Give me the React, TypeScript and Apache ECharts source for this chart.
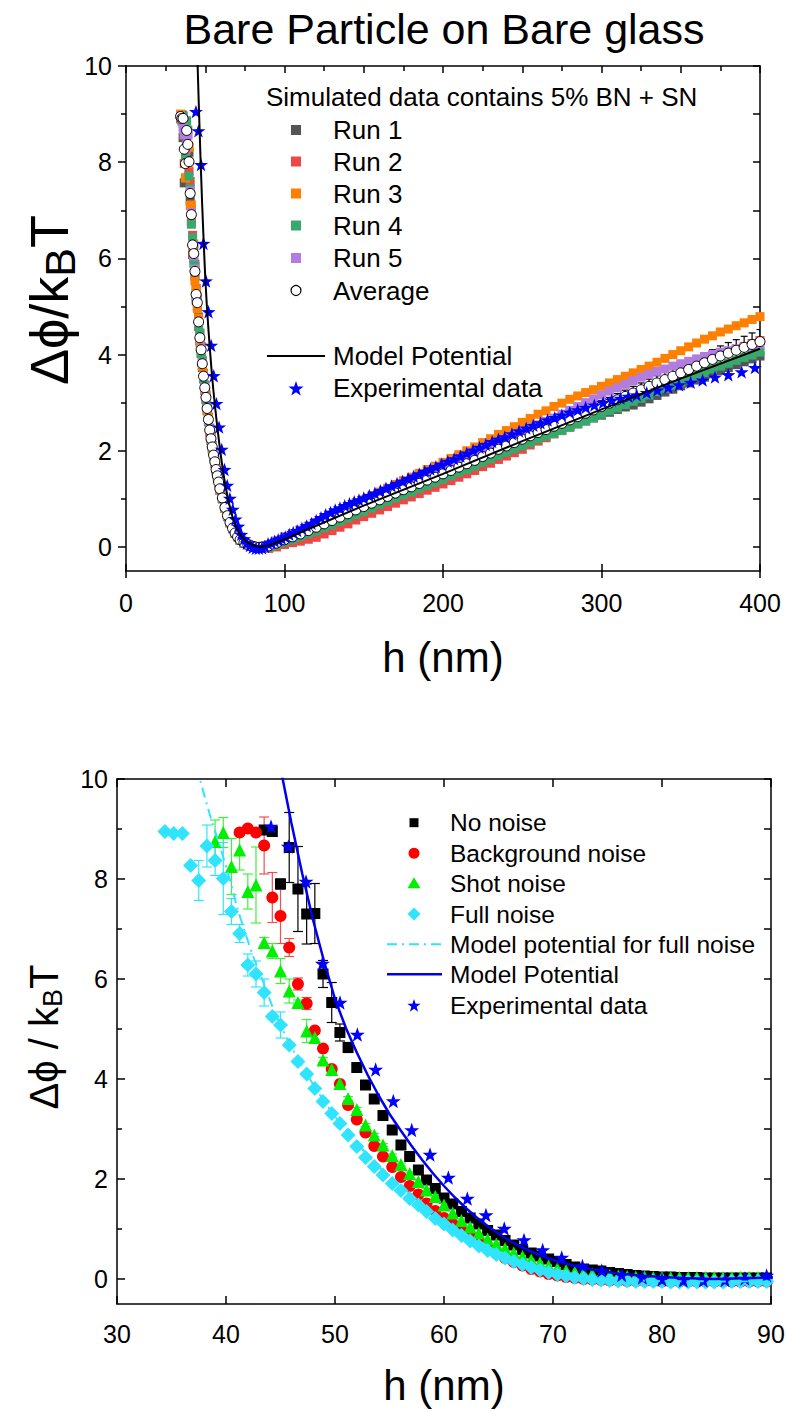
import React, { useEffect, useRef } from "react";
import * as echarts from "echarts";

// ---------------- Top panel (Bare Particle on Bare glass) ----------------
const topH = [34.4, 35.2, 36.0, 36.75, 37.5, 38.25, 39.0, 39.75, 40.5, 41.25, 42.0, 42.75, 43.5, 44.25, 45.0, 45.8, 46.6, 47.4, 48.15, 48.9, 49.7, 50.45, 51.2, 52.0, 52.8, 53.6, 54.4, 55.25, 56.05, 56.85, 57.65, 58.4, 59.2, 60.8, 62.4, 64.0, 65.6, 67.2, 68.8, 70.4, 72.0, 74.4, 76.8, 79.2, 81.6, 84.0, 86.4, 90, 95, 100, 105, 110, 115, 120, 125, 130, 135, 140, 145, 150, 155, 160, 165, 170, 175, 180, 185, 190, 195, 200, 205, 210, 215, 220, 225, 230, 235, 240, 245, 250, 255, 260, 265, 270, 275, 280, 285, 290, 295, 300, 305, 310, 315, 320, 325, 330, 335, 340, 345, 350, 355, 360, 365, 370, 375, 380, 385, 390, 395, 400];

const run1V = [8.95, 8.96, 8.51, 7.57, 7.67, 8.46, 8.07, 8.21, 7.20, 7.01, 6.08, 6.25, 5.63, 5.37, 5.00, 4.78, 4.29, 4.15, 3.73, 3.61, 3.26, 3.15, 2.83, 2.70, 2.39, 2.28, 2.04, 1.94, 1.74, 1.64, 1.46, 1.37, 1.18, 1.04, 0.80, 0.67, 0.50, 0.40, 0.28, 0.22, 0.15, 0.09, 0.05, 0.02, 0.0, -0.01, 0.0,
  0.00, 0.05, 0.12, 0.18, 0.24, 0.31, 0.38, 0.45, 0.52, 0.59, 0.66, 0.73, 0.81, 0.88, 0.95, 1.02, 1.09, 1.16, 1.22, 1.29, 1.35, 1.42, 1.46, 1.53, 1.60, 1.67, 1.74, 1.82, 1.89, 1.97, 2.04, 2.11, 2.18, 2.25, 2.31, 2.37, 2.44, 2.48, 2.51, 2.56, 2.62, 2.68, 2.74, 2.80, 2.86, 2.91, 2.95, 3.01, 3.08, 3.15, 3.22, 3.28, 3.35, 3.41, 3.47, 3.53, 3.60, 3.67, 3.73, 3.79, 3.85, 3.91, 3.97];
const run2V = [8.90, 8.91, 8.96, 7.97, 8.17, 8.26, 8.57, 7.81, 7.60, 6.76, 6.48, 6.00, 5.88, 5.20, 5.18, 4.58, 4.43, 4.04, 3.86, 3.50, 3.37, 3.07, 2.93, 2.62, 2.47, 2.22, 2.11, 1.89, 1.80, 1.59, 1.50, 1.33, 1.23, 1.00, 0.84, 0.64, 0.52, 0.38, 0.29, 0.21, 0.14, 0.08, 0.04, 0.01, -0.01, -0.03, -0.01,
  -0.03, 0.00, 0.05, 0.09, 0.12, 0.16, 0.20, 0.27, 0.34, 0.41, 0.48, 0.56, 0.63, 0.70, 0.77, 0.84, 0.91, 0.98, 1.04, 1.11, 1.18, 1.24, 1.31, 1.38, 1.45, 1.52, 1.59, 1.67, 1.74, 1.82, 1.89, 1.96, 2.03, 2.12, 2.20, 2.27, 2.35, 2.42, 2.49, 2.57, 2.64, 2.72, 2.79, 2.88, 2.96, 3.04, 3.12, 3.20, 3.28, 3.36, 3.44, 3.52, 3.60, 3.68, 3.76, 3.83, 3.91, 3.98, 4.05, 4.11, 4.17, 4.23, 4.29];
const run3V = [9.00, 8.91, 8.81, 8.57, 7.67, 8.66, 7.97, 8.31, 7.10, 7.11, 6.13, 6.30, 5.53, 5.35, 4.96, 4.76, 4.25, 4.17, 3.76, 3.60, 3.26, 3.16, 2.84, 2.69, 2.38, 2.29, 2.05, 1.94, 1.75, 1.63, 1.45, 1.37, 1.19, 1.03, 0.80, 0.66, 0.50, 0.40, 0.29, 0.21, 0.16, 0.10, 0.06, 0.03, 0.01, 0.0, 0.02,
  0.04, 0.12, 0.21, 0.28, 0.35, 0.43, 0.51, 0.59, 0.66, 0.74, 0.82, 0.91, 0.98, 1.06, 1.14, 1.22, 1.30, 1.38, 1.45, 1.53, 1.61, 1.68, 1.76, 1.84, 1.92, 2.00, 2.08, 2.17, 2.25, 2.34, 2.42, 2.50, 2.59, 2.67, 2.76, 2.83, 2.92, 2.99, 3.07, 3.14, 3.21, 3.27, 3.34, 3.41, 3.48, 3.55, 3.62, 3.69, 3.76, 3.84, 3.92, 4.00, 4.08, 4.16, 4.24, 4.32, 4.39, 4.47, 4.53, 4.60, 4.66, 4.73, 4.79];
const run4V = [8.95, 8.86, 8.96, 8.67, 8.07, 8.86, 8.67, 7.71, 7.45, 6.71, 6.43, 5.90, 5.83, 5.13, 5.13, 4.60, 4.45, 4.02, 3.87, 3.49, 3.35, 3.06, 2.91, 2.60, 2.46, 2.21, 2.10, 1.88, 1.79, 1.58, 1.50, 1.33, 1.23, 1.00, 0.83, 0.63, 0.52, 0.38, 0.29, 0.21, 0.14, 0.08, 0.05, 0.01, -0.01, -0.02, -0.01,
  -0.01, 0.04, 0.10, 0.15, 0.21, 0.27, 0.33, 0.40, 0.46, 0.53, 0.60, 0.67, 0.74, 0.81, 0.88, 0.95, 1.02, 1.08, 1.14, 1.21, 1.28, 1.34, 1.41, 1.48, 1.55, 1.61, 1.68, 1.76, 1.83, 1.90, 1.97, 2.04, 2.10, 2.17, 2.24, 2.30, 2.36, 2.42, 2.49, 2.56, 2.62, 2.69, 2.76, 2.83, 2.89, 2.96, 3.03, 3.09, 3.16, 3.23, 3.30, 3.36, 3.43, 3.50, 3.56, 3.63, 3.70, 3.76, 3.82, 3.88, 3.94, 3.99, 4.05];
const run5V = [8.95, 8.91, 8.71, 8.57, 8.27, 8.36, 8.57, 8.01, 7.40, 6.96, 6.28, 6.05, 5.78, 5.20, 5.13, 4.68, 4.33, 4.12, 3.83, 3.55, 3.31, 3.11, 2.89, 2.64, 2.45, 2.25, 2.10, 1.93, 1.77, 1.61, 1.51, 1.37, 1.22, 1.03, 0.83, 0.65, 0.51, 0.39, 0.30, 0.22, 0.16, 0.09, 0.05, 0.02, 0.0, 0.0, 0.0,
  0.05, 0.12, 0.21, 0.28, 0.34, 0.41, 0.49, 0.56, 0.64, 0.71, 0.78, 0.86, 0.94, 1.01, 1.08, 1.16, 1.23, 1.30, 1.36, 1.43, 1.50, 1.57, 1.64, 1.71, 1.78, 1.86, 1.93, 2.01, 2.08, 2.17, 2.24, 2.31, 2.39, 2.47, 2.54, 2.61, 2.68, 2.76, 2.84, 2.92, 3.00, 3.08, 3.16, 3.24, 3.31, 3.38, 3.46, 3.53, 3.59, 3.65, 3.70, 3.76, 3.81, 3.86, 3.91, 3.96, 4.00, 4.05, 4.08, 4.12, 4.15, 4.18, 4.22];
const avgV = [8.95, 8.91, 8.91, 8.27, 7.97, 8.66, 8.37, 8.01, 7.35, 6.91, 6.28, 6.10, 5.73, 5.25, 5.08, 4.68, 4.35, 4.10, 3.81, 3.55, 3.31, 3.11, 2.88, 2.65, 2.43, 2.25, 2.08, 1.91, 1.77, 1.61, 1.48, 1.35, 1.21, 1.02, 0.82, 0.65, 0.51, 0.39, 0.29, 0.21, 0.15, 0.09, 0.05, 0.02, 0.0, -0.01, 0.0,
  0.02, 0.08, 0.15, 0.21, 0.27, 0.34, 0.41, 0.48, 0.55, 0.62, 0.69, 0.77, 0.84, 0.91, 0.98, 1.05, 1.12, 1.19, 1.25, 1.32, 1.39, 1.45, 1.52, 1.59, 1.66, 1.73, 1.80, 1.88, 1.95, 2.03, 2.10, 2.17, 2.24, 2.31, 2.38, 2.44, 2.51, 2.57, 2.64, 2.71, 2.78, 2.85, 2.92, 2.99, 3.06, 3.13, 3.20, 3.27, 3.34, 3.41, 3.48, 3.55, 3.62, 3.69, 3.76, 3.83, 3.90, 3.97, 4.03, 4.09, 4.15, 4.21, 4.27];
const avgErr = [0.03, 0.03, 0.15, 0.3, 0.25, 0.25, 0.3, 0.25, 0.15, 0.15, 0.15, 0.15, 0.12, 0.1, 0.1, 0.08, 0.08, 0.07, 0.06, 0.05, 0.05, 0.04, 0.04, 0.04, 0.04, 0.03, 0.03, 0.03, 0.03, 0.03, 0.03, 0.02, 0.02, 0.02, 0.02, 0.02, 0.02, 0.01, 0.01, 0.01, 0.01, 0.01, 0.01, 0.01, 0.01, 0.01, 0.01,
  0.03, 0.03, 0.03, 0.03, 0.03, 0.03, 0.03, 0.03, 0.03, 0.03, 0.04, 0.04, 0.04, 0.04, 0.05, 0.05, 0.05, 0.05, 0.06, 0.06, 0.06, 0.06, 0.06, 0.07, 0.07, 0.07, 0.07, 0.08, 0.08, 0.08, 0.08, 0.09, 0.09, 0.09, 0.09, 0.10, 0.10, 0.10, 0.11, 0.11, 0.11, 0.12, 0.12, 0.12, 0.13, 0.13, 0.14, 0.14, 0.15, 0.15, 0.16, 0.16, 0.17, 0.17, 0.18, 0.19, 0.20, 0.21, 0.22, 0.22, 0.23, 0.24, 0.25];

const runNames = ["Run 1", "Run 2", "Run 3", "Run 4", "Run 5"];
const runColors = ["#555555", "#ef4646", "#ff8000", "#38a96c", "#b27ddf"];

// Experimental data (shared by both panels)
const expH = [44.13, 45.72, 47.34, 48.84, 50.46, 52.05, 53.73, 55.35, 57.04, 58.72, 60.4, 62.14, 63.85, 65.53, 67.34, 69.05, 70.8, 72.7, 74.47, 76.3, 78.2, 80.0, 81.95, 83.79, 85.78, 87.6, 89.6, 91.7, 93.8, 96.0, 98.2, 100.5, 103, 105.5, 108, 111, 114, 117, 120, 123, 126, 129, 132, 135, 138, 141, 144, 147, 150, 153.5, 157, 160.5, 164, 167.5, 171, 174.5, 178, 181.5, 185, 188.5, 192, 195.5, 199, 203, 207, 211, 215, 219, 223, 227, 231, 235, 239, 243.5, 248, 252.5, 257, 261.5, 266, 270.5, 275, 280, 285, 290, 295.5, 301, 306.5, 312, 317, 322.2, 328.5, 335.2, 342.1, 348.9, 356.3, 363.8, 371.6, 380, 388.4, 396.8];
const expV = [9.05, 8.65, 7.95, 6.31, 5.53, 4.89, 4.19, 3.56, 2.98, 2.49, 2.03, 1.61, 1.28, 1.01, 0.78, 0.58, 0.43, 0.26, 0.17, 0.08, 0.03, -0.01, -0.03, -0.03, -0.02, 0.01, 0.07, 0.09, 0.12, 0.15, 0.18, 0.21, 0.26, 0.30, 0.34, 0.39, 0.44, 0.49, 0.55, 0.61, 0.67, 0.72, 0.77, 0.81, 0.86, 0.90, 0.94, 0.98, 1.02, 1.07, 1.12, 1.17, 1.22, 1.27, 1.32, 1.37, 1.42, 1.47, 1.52, 1.57, 1.62, 1.67, 1.72, 1.78, 1.83, 1.89, 1.95, 2.01, 2.07, 2.13, 2.19, 2.24, 2.29, 2.35, 2.41, 2.47, 2.53, 2.58, 2.64, 2.69, 2.74, 2.80, 2.85, 2.90, 2.95, 3.00, 3.05, 3.09, 3.13, 3.16, 3.21, 3.26, 3.32, 3.37, 3.42, 3.47, 3.53, 3.58, 3.64, 3.73];

// Model potential (shared)
const modelH = [44.9, 45.2, 46, 47, 48, 49, 50, 51, 52, 53, 54, 55, 56, 57, 58, 59, 60, 61, 62, 63, 64, 65, 66, 67, 68, 69, 70, 72, 74, 76, 78, 80, 82, 84.7, 90, 100, 120, 150, 200, 250, 300, 350, 400];
const modelV = [10.3, 10.0, 9.12, 8.10, 7.17, 6.35, 5.60, 5.02, 4.53, 4.08, 3.67, 3.30, 2.98, 2.67, 2.38, 2.11, 1.86, 1.63, 1.42, 1.23, 1.06, 0.91, 0.77, 0.65, 0.55, 0.46, 0.38, 0.26, 0.17, 0.11, 0.07, 0.04, 0.02, 0.0, 0.03, 0.16, 0.44, 0.86, 1.52, 2.2, 2.86, 3.5, 4.12];

// ---------------- Bottom panel ----------------
const bottomH = [34.4, 35.2, 36.0, 36.75, 37.5, 38.25, 39.0, 39.75, 40.5, 41.25, 42.0, 42.75, 43.5, 44.25, 45.0, 45.8, 46.6, 47.4, 48.15, 48.9, 49.7, 50.45, 51.2, 52.0, 52.8, 53.6, 54.4, 55.25, 56.05, 56.85, 57.65, 58.4, 59.2, 60.0, 60.8, 61.6, 62.4, 63.2, 64.0, 64.8, 65.6, 66.4, 67.2, 68.0, 68.8, 69.6, 70.4, 71.2, 72.0, 72.8, 73.6, 74.4, 75.2, 76.0, 76.8, 77.6, 78.4, 79.2, 80.0, 80.8, 81.6, 82.4, 83.2, 84.0, 84.8, 85.6, 86.4, 87.2, 88.0, 88.8, 89.6];
const noNoiseV = [null, null, null, null, null, null, null, null, null, null, null, null, 8.98, 8.95, 7.90, 8.63, 7.80, 7.30, 7.31, 6.10, 5.53, 4.93, 4.63, 4.23, 3.88, 3.60, 3.27, 2.98, 2.68, 2.45, 2.18, 1.98, 1.81,
  1.62, 1.50, 1.35, 1.22, 1.10, 0.97, 0.88, 0.77, 0.68, 0.59, 0.52, 0.46, 0.40, 0.35, 0.29, 0.24, 0.20, 0.18, 0.16, 0.13, 0.11, 0.09, 0.07, 0.06, 0.05, 0.04, 0.04, 0.03, 0.03, 0.03, 0.02, 0.02, 0.02, 0.02, 0.02, 0.02, 0.02, 0.02];
const noNoiseErr = [0, 0, 0, 0, 0, 0, 0, 0, 0, 0, 0, 0, 0, 0, 0.1, 0.7, 0.85, 0.6, 0.6, 0.27, 0.4, 0.17, 0.1, 0.06, 0.05, 0.04, 0.04, 0.03, 0.03, 0.03, 0.03, 0.03, 0.03];
const bgNoiseV = [null, null, null, null, null, null, null, null, null, 8.93, 9.01, 8.93, 8.67, 7.63, 7.26, 6.63, 5.90, 5.51, 4.97, 4.61, 4.20, 3.90, 3.48, 3.19, 2.93, 2.66, 2.45, 2.24, 2.04, 1.86, 1.69, 1.51, 1.36,
  1.22, 1.10, 0.97, 0.85, 0.73, 0.61, 0.51, 0.42, 0.34, 0.27, 0.20, 0.15, 0.10, 0.07, 0.04, 0.02, 0.00, -0.01, -0.02, -0.03, -0.03, -0.04, -0.04, -0.04, -0.04, -0.05, -0.05, -0.05, -0.05, -0.05, -0.05, -0.05, -0.05, -0.05, -0.05, -0.05, -0.05, -0.05];
const bgNoiseErr = [0, 0, 0, 0, 0, 0, 0, 0, 0, 0.05, 0.05, 0.05, 0.57, 0.5, 0.55, 0.18, 0.12, 0.12, 0.05, 0.05, 0.04, 0.04, 0.03, 0.03, 0.03, 0.03, 0.03, 0.03, 0.03, 0.03, 0.03, 0.03, 0.03];
const shotNoiseV = [null, null, null, null, null, null, 8.75, 8.93, 8.25, 8.58, 7.75, 7.88, 6.73, 6.56, 6.16, 5.76, 5.53, 4.96, 4.83, 4.38, 4.19, 3.91, 3.61, 3.39, 3.08, 2.88, 2.68, 2.47, 2.29, 2.11, 1.95, 1.78, 1.65,
  1.48, 1.32, 1.17, 1.04, 0.92, 0.80, 0.70, 0.61, 0.52, 0.45, 0.38, 0.32, 0.26, 0.21, 0.17, 0.14, 0.12, 0.10, 0.08, 0.07, 0.06, 0.05, 0.04, 0.04, 0.03, 0.03, 0.03, 0.03, 0.03, 0.03, 0.03, 0.03, 0.03, 0.03, 0.03, 0.03, 0.03, 0.03];
const shotNoiseErr = [0, 0, 0, 0, 0, 0, 0.43, 0.3, 0.56, 0.4, 0.35, 0.76, 0.1, 0.15, 0.25, 0.24, 0.05, 0.23, 0.1, 0.05, 0.05, 0.04, 0.04, 0.04, 0.03, 0.03, 0.03, 0.03, 0.03, 0.03, 0.03, 0.03, 0.03];
const fullNoiseV = [8.95, 8.91, 8.91, 8.27, 7.97, 8.66, 8.37, 8.01, 7.35, 6.91, 6.28, 6.10, 5.73, 5.25, 5.08, 4.68, 4.35, 4.10, 3.81, 3.55, 3.31, 3.11, 2.88, 2.65, 2.43, 2.25, 2.08, 1.91, 1.77, 1.61, 1.48, 1.35, 1.21,
  1.10, 0.98, 0.87, 0.76, 0.66, 0.57, 0.49, 0.42, 0.35, 0.29, 0.23, 0.18, 0.13, 0.09, 0.06, 0.03, 0.01, -0.01, -0.02, -0.03, -0.04, -0.04, -0.05, -0.05, -0.05, -0.05, -0.06, -0.06, -0.06, -0.06, -0.06, -0.06, -0.06, -0.05, -0.05, -0.05, -0.05, -0.05];
const fullNoiseErr = [0, 0, 0, 0, 0.4, 0.42, 0.3, 0.72, 0.26, 0.18, 0.22, 0.26, 0.27, 0.05, 0.26, 0.04, 0.04, 0.04, 0.03, 0.03, 0.03, 0.03, 0.03, 0.03, 0.03, 0.03, 0.03, 0.03, 0.03, 0.03, 0.03, 0.03, 0.03];
const fullModelH = [37.3, 37.6, 38.5, 39.45, 40.4, 41.0, 41.75, 42.5, 43.4, 44.35, 45.5, 47.0, 48.5, 50.0, 52.0, 54.0, 56.0, 58.0, 60.0, 62.0, 64.0, 66.0, 68.0, 70.0, 72.0, 75.0, 80.0, 90.0];
const fullModelV = [10.25, 10.0, 9.3, 8.65, 7.95, 7.45, 6.93, 6.45, 5.95, 5.40, 4.85, 4.25, 3.72, 3.25, 2.72, 2.25, 1.85, 1.50, 1.18, 0.90, 0.66, 0.46, 0.30, 0.17, 0.08, 0.0, -0.04, -0.05];

const bottomNames = ["No noise", "Background noise", "Shot noise", "Full noise", "Model potential for full noise", "Model Potential", "Experimental data"];

// ticks
const yMajor = [0, 2, 4, 6, 8, 10];
const yMinor = [1, 3, 5, 7, 9];
const yAll = [0, 1, 2, 3, 4, 5, 6, 7, 8, 9, 10];

const FONT = "'Liberation Sans', Arial, Helvetica, sans-serif";
const STAR = "path://M0,-10L2.35,-3.24L9.51,-3.09L3.8,1.24L5.88,8.09L0,4L-5.88,8.09L-3.8,1.24L-9.51,-3.09L-2.35,-3.24Z";
const BLUE = "#0000ff";
const CYAN = "#30e4ff";
const GREEN = "#00f000";

function pairs(xs: number[], ys: (number | null)[]) {
  const out: number[][] = [];
  for (let i = 0; i < xs.length; i++) {
    const y = ys[i];
    if (y === null || y === undefined) continue;
    out.push([xs[i], y as number]);
  }
  return out;
}

function errorBars(name: string, xs: number[], ys: (number | null)[], errs: number[], color: string, xi: number, yi: number, cap: number) {
  const data: number[][] = [];
  xs.forEach((x, i) => {
    const y = ys[i];
    const e = errs[i] ?? 0;
    if (y === null || y === undefined || !(e > 0)) return;
    data.push([x, (y as number) - e, (y as number) + e]);
  });
  return {
    type: "custom",
    name,
    xAxisIndex: xi,
    yAxisIndex: yi,
    data,
    silent: true,
    clip: true,
    encode: { x: 0, y: [1, 2] },
    renderItem: (params: any, api: any) => {
      const x = api.value(0);
      const lo = api.coord([x, api.value(1)]);
      const hi = api.coord([x, api.value(2)]);
      const style = { stroke: color, lineWidth: 1.2, fill: "none" };
      return {
        type: "group",
        children: [
          { type: "line", shape: { x1: lo[0], y1: lo[1], x2: hi[0], y2: hi[1] }, style },
          { type: "line", shape: { x1: hi[0] - cap, y1: hi[1], x2: hi[0] + cap, y2: hi[1] }, style },
          { type: "line", shape: { x1: lo[0] - cap, y1: lo[1], x2: lo[0] + cap, y2: lo[1] }, style },
        ],
      };
    },
  };
}

function starPts(cx: number, cy: number, R: number) {
  const pts: number[][] = [];
  for (let k = 0; k < 10; k++) {
    const r = k % 2 === 0 ? R : R * 0.4;
    const a = -Math.PI / 2 + (k * Math.PI) / 5;
    pts.push([cx + r * Math.cos(a), cy + r * Math.sin(a)]);
  }
  return pts;
}

const G0 = { left: 126, top: 66, width: 634, height: 505 };
const G1 = { left: 117, top: 779, width: 654, height: 525 };

function buildOption() {
  const lineSt = { color: "#000", width: 1.5 };
  const tickSt = { color: "#000", width: 1.5 };
  const lbl = { show: true, fontSize: 25, color: "#000", fontFamily: FONT };
  const off = { show: false };

  const xAxis = [
    { gridIndex: 0, type: "value", min: 0, max: 400, interval: 100, position: "bottom",
      axisLine: { show: true, onZero: false, lineStyle: lineSt },
      axisTick: { show: true, inside: false, length: 7, lineStyle: tickSt },
      axisLabel: { ...lbl, margin: 19 }, splitLine: off },
    { gridIndex: 0, type: "value", min: 0, max: 400, interval: 50, position: "top",
      axisLine: { show: true, onZero: false, lineStyle: lineSt },
      axisTick: { show: true, inside: true, length: 7, lineStyle: tickSt },
      minorTick: { show: true, splitNumber: 2, length: 5, lineStyle: tickSt },
      axisLabel: off, splitLine: off },
    { gridIndex: 2, type: "value", min: 0, max: 400, interval: 100, position: "bottom",
      axisLine: { show: false, onZero: false },
      axisTick: { show: true, inside: true, length: 7, lineStyle: tickSt },
      axisLabel: off, splitLine: off },
    { gridIndex: 1, type: "value", min: 30, max: 90, interval: 10, position: "bottom",
      axisLine: { show: true, onZero: false, lineStyle: lineSt },
      axisTick: { show: true, inside: true, length: 8, lineStyle: tickSt },
      axisLabel: { ...lbl, margin: 17 }, splitLine: off },
    { gridIndex: 1, type: "value", min: 30, max: 90, interval: 10, position: "top",
      axisLine: { show: true, onZero: false, lineStyle: lineSt },
      axisTick: { show: true, inside: true, length: 8, lineStyle: tickSt },
      axisLabel: off, splitLine: off },
    { gridIndex: 3, type: "value", min: 30, max: 90, interval: 10, show: false,
      axisLine: { show: false, onZero: false }, splitLine: off },
  ];

  const yAxis = [
    { gridIndex: 0, type: "value", min: -0.5, max: 10, position: "left",
      axisLine: { show: true, onZero: false, lineStyle: lineSt },
      axisTick: { show: true, inside: false, length: 8, customValues: yMajor, lineStyle: tickSt },
      axisLabel: { ...lbl, margin: 14, customValues: yMajor }, splitLine: off },
    { gridIndex: 0, type: "value", min: -0.5, max: 10, position: "right",
      axisLine: { show: true, onZero: false, lineStyle: lineSt },
      axisTick: { show: true, inside: true, length: 7, customValues: yAll, lineStyle: tickSt },
      axisLabel: off, splitLine: off },
    { gridIndex: 2, type: "value", min: -0.5, max: 10, position: "left",
      axisLine: { show: false, onZero: false },
      axisTick: { show: true, inside: false, length: 5, customValues: yMinor, lineStyle: tickSt },
      axisLabel: off, splitLine: off },
    { gridIndex: 1, type: "value", min: -0.5, max: 10, position: "left",
      axisLine: { show: true, onZero: false, lineStyle: lineSt },
      axisTick: { show: true, inside: true, length: 8, customValues: yMajor, lineStyle: tickSt },
      axisLabel: { ...lbl, margin: 9, customValues: yMajor }, splitLine: off },
    { gridIndex: 1, type: "value", min: -0.5, max: 10, position: "right",
      axisLine: { show: true, onZero: false, lineStyle: lineSt },
      axisTick: { show: true, inside: true, length: 7, customValues: yAll, lineStyle: tickSt },
      axisLabel: off, splitLine: off },
    { gridIndex: 3, type: "value", min: -0.5, max: 10, position: "left",
      axisLine: { show: false, onZero: false },
      axisTick: { show: true, inside: true, length: 5, customValues: yMinor, lineStyle: tickSt },
      axisLabel: off, splitLine: off },
  ];

  const sc = (extra: any) => ({ type: "scatter", silent: true, clip: true, ...extra });
  const series: any[] = [];
  const runs = [run1V, run2V, run3V, run4V, run5V];
  runs.forEach((vals, i) => {
    series.push(sc({ name: runNames[i], xAxisIndex: 0, yAxisIndex: 0, data: pairs(topH, vals),
      symbol: "rect", symbolSize: 9, itemStyle: { color: runColors[i], opacity: 1 } }));
  });
  series.push({ type: "line", name: "Model Potential", xAxisIndex: 0, yAxisIndex: 0, data: pairs(modelH, modelV),
    symbol: "none", showSymbol: false, smooth: false, clip: true, lineStyle: { color: "#000", width: 2 }, silent: true });
  series.push(errorBars("Average error", topH, avgV, avgErr, "#000", 0, 0, 3.5));
  series.push(sc({ name: "Average", xAxisIndex: 0, yAxisIndex: 0, data: pairs(topH, avgV),
    symbol: "circle", symbolSize: 10, itemStyle: { color: "#fff", borderColor: "#000", borderWidth: 1, opacity: 1 } }));
  series.push(sc({ name: "Experimental data", xAxisIndex: 0, yAxisIndex: 0, data: pairs(expH, expV),
    symbol: STAR, symbolSize: 14, symbolKeepAspect: true, itemStyle: { color: BLUE, opacity: 1 } }));

  // bottom
  series.push(errorBars("No noise error", bottomH, noNoiseV, noNoiseErr, "#000", 3, 3, 5));
  series.push(sc({ name: bottomNames[0], xAxisIndex: 3, yAxisIndex: 3, data: pairs(bottomH, noNoiseV),
    symbol: "rect", symbolSize: 11, itemStyle: { color: "#000", opacity: 1 } }));
  series.push(errorBars("Background noise error", bottomH, bgNoiseV, bgNoiseErr, "#f05050", 3, 3, 5));
  series.push(sc({ name: bottomNames[1], xAxisIndex: 3, yAxisIndex: 3, data: pairs(bottomH, bgNoiseV),
    symbol: "circle", symbolSize: 12, itemStyle: { color: "#ff0000", opacity: 1 } }));
  series.push(errorBars("Shot noise error", bottomH, shotNoiseV, shotNoiseErr, "#40f040", 3, 3, 5));
  series.push(sc({ name: bottomNames[2], xAxisIndex: 3, yAxisIndex: 3, data: pairs(bottomH, shotNoiseV),
    symbol: "triangle", symbolSize: 13, itemStyle: { color: GREEN, opacity: 1 } }));
  series.push({ type: "line", name: bottomNames[4], xAxisIndex: 3, yAxisIndex: 3, data: pairs(fullModelH, fullModelV),
    symbol: "none", showSymbol: false, smooth: 0.3, clip: true,
    lineStyle: { color: CYAN, width: 2, type: [10, 5, 2, 5] }, silent: true });
  series.push(errorBars("Full noise error", bottomH, fullNoiseV, fullNoiseErr, CYAN, 3, 3, 5));
  series.push(sc({ name: bottomNames[3], xAxisIndex: 3, yAxisIndex: 3, data: pairs(bottomH, fullNoiseV),
    symbol: "diamond", symbolSize: 15, itemStyle: { color: CYAN, opacity: 1 } }));
  series.push({ type: "line", name: bottomNames[5], xAxisIndex: 3, yAxisIndex: 3, data: pairs(modelH, modelV),
    symbol: "none", showSymbol: false, smooth: false, clip: true, lineStyle: { color: "#0000ee", width: 2.5 }, silent: true });
  const bExp = pairs(expH, expV).filter((p) => p[0] <= 90.5);
  series.push(sc({ name: bottomNames[6], xAxisIndex: 3, yAxisIndex: 3, data: bExp,
    symbol: STAR, symbolSize: 15, symbolKeepAspect: true, itemStyle: { color: BLUE, opacity: 1 } }));

  // graphic: titles & legends
  const g: any[] = [];
  const txt = (x: number, y: number, text: string, size: number, align = "left") => ({
    type: "text", x, y, z: 100,
    style: { text, fontSize: size, fontFamily: FONT, fill: "#000", align, verticalAlign: "middle" },
  });
  g.push(txt(444, 29, "Bare Particle on Bare glass", 43, "center"));
  g.push(txt(443, 657, "h (nm)", 42, "center"));
  g.push(txt(444, 1385, "h (nm)", 42, "center"));
  g.push({ type: "text", x: 49, y: 300, rotation: Math.PI / 2, z: 100,
    style: { text: "{a|Δϕ/k}{b|B}{a|T}", align: "center", verticalAlign: "middle", fill: "#000",
      rich: { a: { fontSize: 54, fontFamily: FONT, fill: "#000" }, b: { fontSize: 43, fontFamily: FONT, fill: "#000", padding: [22, 0, 0, 0] } } } });
  g.push({ type: "text", x: 44, y: 1037, rotation: Math.PI / 2, z: 100,
    style: { text: "{a|Δϕ / k}{b|B}{a|T}", align: "center", verticalAlign: "middle", fill: "#000",
      rich: { a: { fontSize: 40, fontFamily: FONT, fill: "#000" }, b: { fontSize: 27, fontFamily: FONT, fill: "#000", padding: [18, 0, 0, 0] } } } });

  // top legend
  g.push(txt(266, 97, "Simulated data contains 5% BN + SN", 26));
  const tY = [130, 161.5, 193.5, 225.5, 258];
  tY.forEach((y, i) => {
    g.push({ type: "rect", z: 100, shape: { x: 291, y: y - 5, width: 10, height: 10 }, style: { fill: runColors[i] } });
    g.push(txt(333, y, runNames[i], 26));
  });
  g.push({ type: "circle", z: 100, shape: { cx: 296, cy: 290.5, r: 5 }, style: { fill: "#fff", stroke: "#000", lineWidth: 1.2 } });
  g.push(txt(333, 290.5, "Average", 26));
  g.push({ type: "line", z: 100, shape: { x1: 267, y1: 356, x2: 325, y2: 356 }, style: { stroke: "#000", lineWidth: 2 } });
  g.push(txt(333, 356, "Model Potential", 26));
  g.push({ type: "polygon", z: 100, shape: { points: starPts(296, 389, 8) }, style: { fill: BLUE } });
  g.push(txt(333, 388, "Experimental data", 26));

  // bottom legend
  const bY = [822.7, 853.3, 883.3, 914, 944.3, 974.3, 1005];
  const mx = 414;
  g.push({ type: "rect", z: 100, shape: { x: mx - 4.5, y: bY[0] - 4.5, width: 9, height: 9 }, style: { fill: "#000" } });
  g.push({ type: "circle", z: 100, shape: { cx: mx, cy: bY[1], r: 5.5 }, style: { fill: "#ff0000" } });
  g.push({ type: "polygon", z: 100, shape: { points: [[mx, bY[2] - 6], [mx + 6.5, bY[2] + 5], [mx - 6.5, bY[2] + 5]] }, style: { fill: GREEN } });
  g.push({ type: "polygon", z: 100, shape: { points: [[mx, bY[3] - 6.5], [mx + 6.5, bY[3]], [mx, bY[3] + 6.5], [mx - 6.5, bY[3]]] }, style: { fill: CYAN } });
  g.push({ type: "line", z: 100, shape: { x1: 387, y1: bY[4], x2: 442, y2: bY[4] }, style: { stroke: CYAN, lineWidth: 2, lineDash: [10, 5, 2, 5] } });
  g.push({ type: "line", z: 100, shape: { x1: 387, y1: bY[5], x2: 442, y2: bY[5] }, style: { stroke: "#0000ee", lineWidth: 2.5 } });
  g.push({ type: "polygon", z: 100, shape: { points: starPts(mx, bY[6] + 1, 7) }, style: { fill: BLUE } });
  bottomNames.forEach((n, i) => g.push(txt(450, bY[i], n, 24.5)));

  return {
    animation: false,
    backgroundColor: "#fff",
    textStyle: { fontFamily: FONT },
    grid: [
      { ...G0, containLabel: false, outerBoundsMode: "none" },
      { ...G1, containLabel: false, outerBoundsMode: "none" },
      { ...G0, containLabel: false, outerBoundsMode: "none" },
      { ...G1, containLabel: false, outerBoundsMode: "none" },
    ],
    xAxis,
    yAxis,
    series,
    graphic: { elements: g },
  };
}

export default function App() {
  const ref = useRef<HTMLDivElement>(null);
  useEffect(() => {
    if (!ref.current) return;
    const chart = echarts.init(ref.current, null, { renderer: "svg" });
    chart.setOption(buildOption() as any);
    return () => chart.dispose();
  }, []);
  return <div ref={ref} style={{ position: "absolute", left: 0, top: 0, width: 786, height: 1412, background: "#fff" }} />;
}
